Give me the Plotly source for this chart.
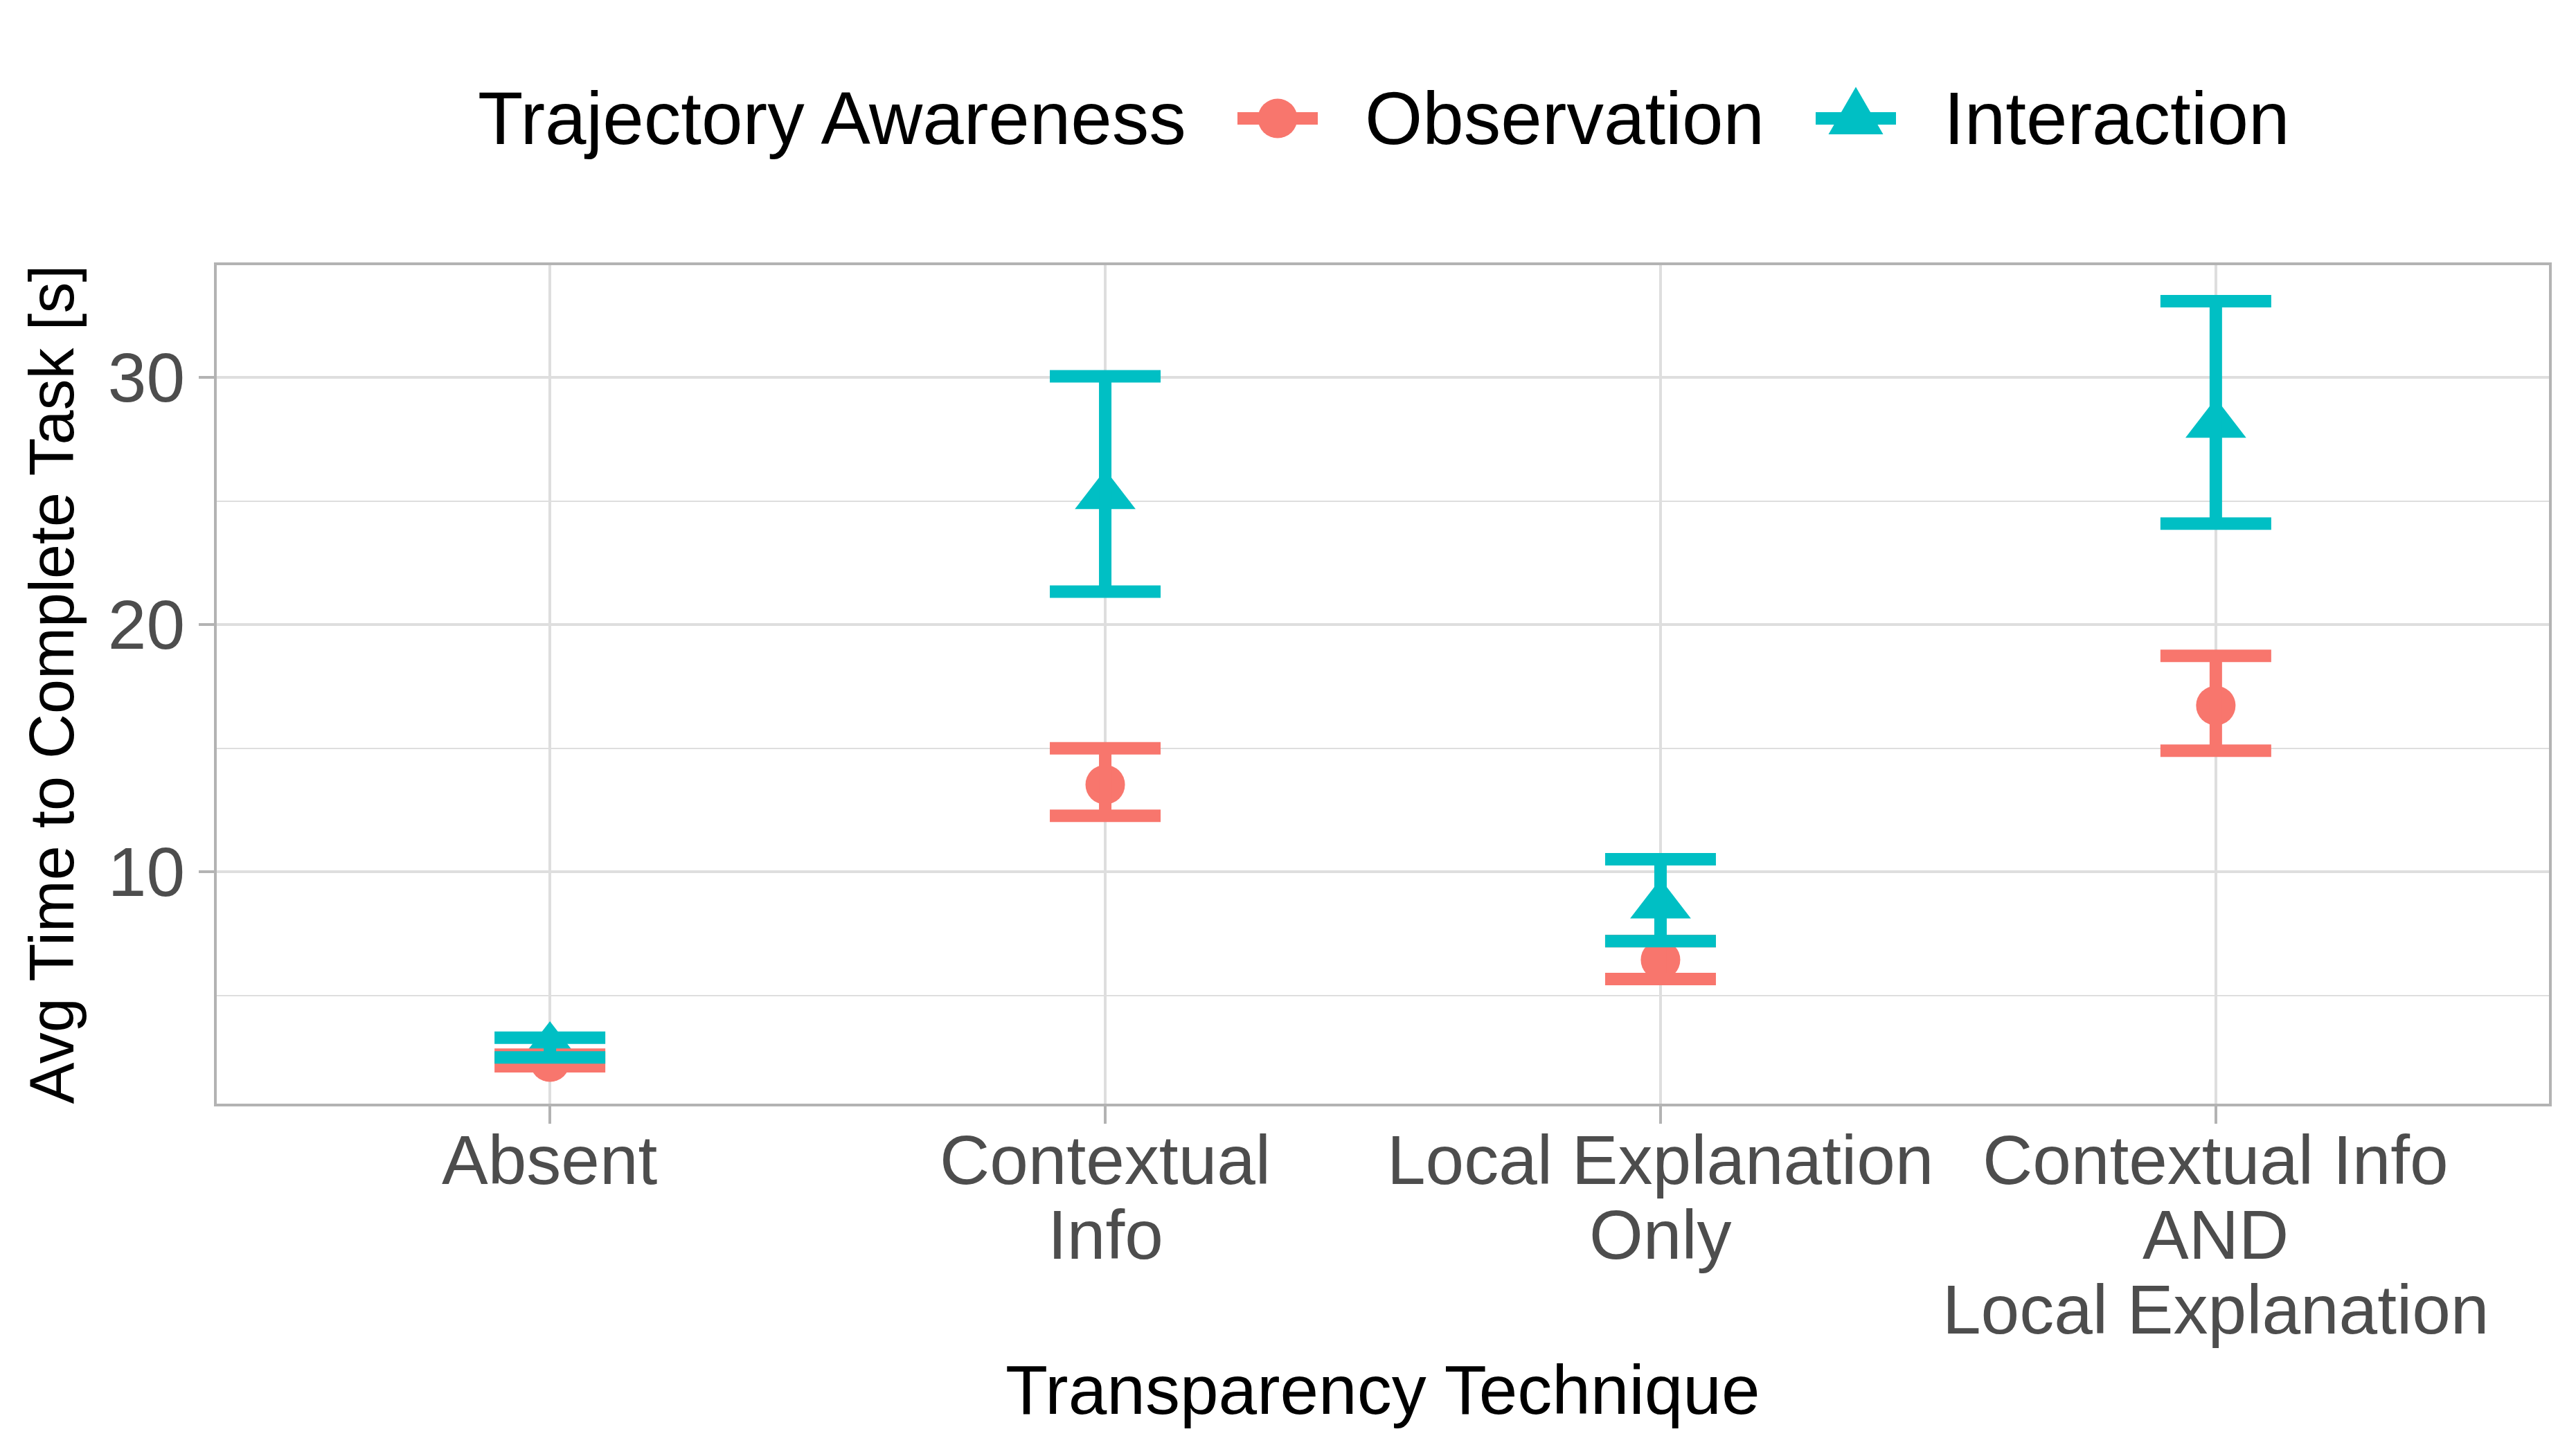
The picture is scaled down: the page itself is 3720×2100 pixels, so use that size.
import plotly.graph_objects as go

# categories and tick labels (one entry per line of the label)
categories = ["Absent", "Contextual Info", "Local Explanation Only",
              "Contextual Info AND Local Explanation"]
tick_lines = [["Absent"],
              ["Contextual", "Info"],
              ["Local Explanation", "Only"],
              ["Contextual Info", "AND", "Local Explanation"]]

# Observation (mean, lower, upper)
obs_mean = [2.30, 13.53, 6.44, 16.73]
obs_low = [2.13, 12.27, 5.66, 14.90]
obs_high = [2.60, 15.00, 7.20, 18.74]

# Interaction (mean, lower, upper)
int_mean = [2.89, 25.21, 8.65, 28.10]
int_low = [2.49, 21.34, 7.20, 24.09]
int_high = [3.29, 30.05, 10.51, 33.09]

red = "#F8766D"
teal = "#00BFC4"
font = "Liberation Sans, Arial, sans-serif"

W, H = 3720, 2100
ml, mr, mt, mb = 305, 47, 375, 514


def px_x(p):
    return (p - ml) / (W - ml - mr)


def px_y(p):
    return (H - mb - p) / (H - mt - mb)


def err(mean, low, high):
    return dict(type="data", symmetric=False,
                array=[h - m for m, h in zip(mean, high)],
                arrayminus=[m - l for m, l in zip(mean, low)])


fig = go.Figure()
# points first, error bars drawn over them (like geom_point + geom_errorbar)
fig.add_trace(go.Scatter(x=categories, y=obs_mean, mode="markers", name="Observation",
                         marker=dict(symbol="circle", size=57, color=red, line_width=0)))
fig.add_trace(go.Scatter(x=categories, y=int_mean, mode="markers", name="Interaction",
                         marker=dict(symbol="triangle-up", size=76, color=teal, line_width=0)))
for mean, low, high, col in [(obs_mean, obs_low, obs_high, red),
                             (int_mean, int_low, int_high, teal)]:
    e = err(mean, low, high)
    e.update(color=col, thickness=18, width=80)
    fig.add_trace(go.Scatter(x=categories, y=mean, mode="markers", error_y=e,
                             marker=dict(size=1, color="rgba(0,0,0,0)"),
                             showlegend=False, hoverinfo="skip"))

anns = []
# x tick labels, one annotation per line (ggplot-like tight line spacing)
line_centers = [1667, 1775, 1883]
for cat, lines in zip(categories, tick_lines):
    for k, txt in enumerate(lines):
        anns.append(dict(text=txt, x=cat, xref="x", y=px_y(line_centers[k]), yref="paper",
                         xanchor="center", yanchor="middle", showarrow=False,
                         font=dict(family=font, size=100, color="#4D4D4D")))
# x axis title
anns.append(dict(text="Transparency Technique", x=0.5, xref="paper", y=px_y(1999), yref="paper",
                 xanchor="center", yanchor="middle", showarrow=False,
                 font=dict(family=font, size=100, color="black")))

# hand-made legend on top
leg_y = px_y(163)
for txt, p in [("Trajectory Awareness", 680), ("Observation", 1961), ("Interaction", 2797)]:
    anns.append(dict(text=txt, x=px_x(p), y=leg_y, xref="paper", yref="paper",
                     xanchor="left", yanchor="middle", showarrow=False,
                     font=dict(family=font, size=107, color="black")))

shapes = []
for cx, col in [(1837, red), (2672, teal)]:
    shapes.append(dict(type="line", xref="paper", yref="paper",
                       xsizemode="pixel", ysizemode="pixel",
                       xanchor=px_x(cx), yanchor=leg_y,
                       x0=-58, x1=58, y0=0, y1=0,
                       line=dict(color=col, width=18)))
shapes.append(dict(type="circle", xref="paper", yref="paper",
                   xsizemode="pixel", ysizemode="pixel",
                   xanchor=px_x(1837), yanchor=leg_y,
                   x0=-28.5, x1=28.5, y0=-28.5, y1=28.5,
                   fillcolor=red, line_width=0))
shapes.append(dict(type="path", xref="paper", yref="paper",
                   xsizemode="pixel", ysizemode="pixel",
                   xanchor=px_x(2672), yanchor=leg_y,
                   path="M-39.5,-23 L39.5,-23 L0,45.5 Z",
                   fillcolor=teal, line_width=0))

fig.update_layout(
    width=W, height=H,
    margin=dict(l=ml, r=mr, t=mt, b=mb),
    paper_bgcolor="white", plot_bgcolor="white",
    showlegend=False,
    annotations=anns, shapes=shapes,
    font=dict(family=font),
)
fig.update_xaxes(
    range=[-0.6, 3.6], tickvals=categories, showticklabels=False,
    showgrid=True, gridcolor="#DEDEDE", gridwidth=4,
    showline=True, mirror=True, linecolor="#B3B3B3", linewidth=4,
    ticks="outside", ticklen=25, tickwidth=4, tickcolor="#B3B3B3",
    zeroline=False,
)
fig.update_yaxes(
    range=[0.62, 34.55], tickvals=[10, 20, 30],
    tickfont=dict(family=font, size=100, color="#4D4D4D"),
    showgrid=True, gridcolor="#DEDEDE", gridwidth=4,
    minor=dict(tickvals=[5, 15, 25], showgrid=True, gridcolor="#DEDEDE", gridwidth=2, ticks=""),
    showline=True, mirror=True, linecolor="#B3B3B3", linewidth=4,
    ticks="outside", ticklen=22, tickwidth=4, tickcolor="#B3B3B3",
    title=dict(text="Avg Time to Complete Task [s]", font=dict(family=font, size=90, color="black"),
               standoff=20),
    zeroline=False,
)

fig.write_html("out.html")
